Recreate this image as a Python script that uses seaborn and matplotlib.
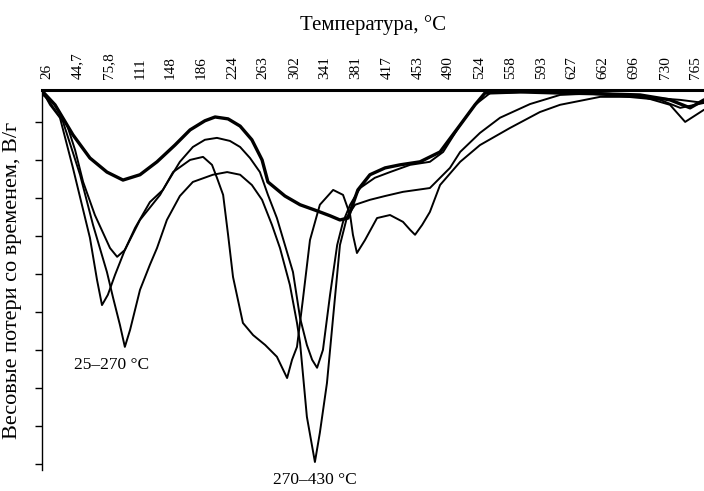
import numpy as np
import pandas as pd
import matplotlib
matplotlib.use("Agg")
import matplotlib.pyplot as plt
import seaborn as sns

# =========================
# DATA (x: tick index on temperature scale, y: DTG in tick units)
# =========================
temp_labels = ["26", "44,7", "75,8", "111", "148", "186", "224", "263", "302", "341",
               "381", "417", "453", "490", "524", "558", "593", "627", "662", "696",
               "730", "765"]

c1_x = [-0.13, 0.26, 0.84, 1.39, 1.94, 2.46, 3.01, 3.56, 4.14, 4.63, 5.11, 5.44, 5.86,
        6.25, 6.63, 6.96, 7.15, 7.70, 8.19, 8.67, 9.16, 9.48, 9.74, 10.06, 10.45, 10.94,
        11.42, 12.07, 12.72, 13.37, 13.85, 14.17, 15.31, 16.60, 17.90, 19.19, 20.16,
        20.81, 21.26]
c1_y = [0.79, 0.45, -0.34, -0.95, -1.32, -1.53, -1.39, -1.05, -0.61, -0.21, 0.03, 0.13,
        0.08, -0.11, -0.47, -1.00, -1.58, -1.95, -2.18, -2.32, -2.47, -2.58, -2.53,
        -1.79, -1.39, -1.21, -1.13, -1.05, -0.79, -0.08, 0.45, 0.76, 0.79, 0.76, 0.74,
        0.71, 0.58, 0.37, 0.58]

c2_x = [-0.13, 0.26, 0.65, 0.91, 1.17, 1.55, 2.04, 2.27, 2.52, 2.85, 3.33, 3.75, 4.30,
        4.72, 5.11, 5.50, 5.92, 6.25, 6.57, 6.89, 7.15, 7.44, 7.70, 7.96, 8.19, 8.41,
        8.58, 8.74, 8.93, 9.16, 9.39, 9.58, 9.81, 10.13, 10.61, 11.10, 11.75, 12.39,
        12.82, 13.37, 13.85, 14.34, 15.63, 17.25, 18.54, 19.84, 20.49, 21.26]
c2_y = [0.71, 0.45, -0.08, -0.74, -1.58, -2.45, -3.32, -3.55, -3.37, -2.79, -2.11,
        -1.79, -1.05, -0.66, -0.47, -0.42, -0.50, -0.66, -0.95, -1.32, -1.92, -2.53,
        -3.24, -3.95, -5.16, -5.87, -6.26, -6.47, -6.00, -4.55, -3.24, -2.63, -2.18,
        -1.74, -1.47, -1.32, -1.13, -1.05, -0.79, -0.08, 0.45, 0.76, 0.79, 0.76, 0.68,
        0.58, 0.37, 0.50]

c3_x = [-0.13, 0.26, 0.52, 1.07, 1.49, 1.94, 2.14, 2.36, 2.52, 2.69, 3.01, 3.33, 3.56,
        3.88, 4.30, 4.72, 5.37, 5.83, 6.25, 6.63, 6.96, 7.28, 7.54, 7.86, 8.09, 8.19,
        8.41, 8.67, 8.83, 9.06, 9.26, 9.48, 9.71, 9.97, 10.45, 10.94, 11.52, 12.39,
        13.04, 13.37, 14.01, 14.66, 15.63, 16.60, 17.90, 19.19, 20.16, 20.65, 21.26]
c3_y = [0.76, 0.32, 0.00, -1.39, -2.71, -3.95, -4.63, -5.34, -5.92, -5.47, -4.42,
        -3.76, -3.32, -2.58, -1.95, -1.58, -1.39, -1.32, -1.39, -1.66, -2.05, -2.71,
        -3.32, -4.29, -5.29, -5.82, -7.76, -8.95, -8.18, -6.87, -5.13, -3.24, -2.50,
        -2.18, -2.05, -1.95, -1.84, -1.74, -1.21, -0.79, -0.29, 0.11, 0.47, 0.71, 0.76,
        0.68, 0.45, 0.00, 0.32]

c4_x = [-0.13, 0.10, 0.42, 0.84, 1.39, 1.62, 1.78, 1.97, 2.20, 2.52, 3.01, 3.66, 4.08,
        4.63, 5.05, 5.34, 5.50, 5.70, 5.86, 6.02, 6.34, 6.67, 7.06, 7.44, 7.77, 7.93,
        8.09, 8.28, 8.51, 8.83, 9.26, 9.58, 9.81, 9.90, 10.03, 10.29, 10.68, 11.10,
        11.52, 11.75, 11.91, 12.14, 12.39, 12.72, 13.37, 14.01, 14.98, 15.95, 16.60,
        17.90, 19.19, 20.49, 21.26]
c4_y = [0.79, 0.45, 0.11, -1.21, -3.05, -4.16, -4.82, -4.55, -4.03, -3.37, -2.58,
        -1.92, -1.32, -1.00, -0.92, -1.13, -1.47, -1.92, -2.97, -4.08, -5.29, -5.61,
        -5.87, -6.18, -6.74, -6.26, -5.92, -4.68, -3.11, -2.18, -1.79, -1.92, -2.45,
        -2.97, -3.45, -3.11, -2.53, -2.45, -2.63, -2.84, -2.97, -2.71, -2.37, -1.66,
        -1.05, -0.61, -0.16, 0.26, 0.45, 0.66, 0.66, 0.58, 0.50]

curves = [("1", c1_x, c1_y, 2.4), ("2", c2_x, c2_y, 1.4),
          ("3", c3_x, c3_y, 1.4), ("4", c4_x, c4_y, 1.4)]

# =========================
# PLOT
# =========================
sns.set_theme(style="white")
plt.rcParams["font.family"] = ["Liberation Serif", "DejaVu Serif"]
plt.rcParams["text.color"] = "black"
plt.rcParams["axes.labelcolor"] = "black"
plt.rcParams["xtick.color"] = "black"
plt.rcParams["ytick.color"] = "black"

fig = plt.figure(figsize=(7.04, 4.91), dpi=100)
ax = fig.add_axes([0.0597, 0.0428, 0.9403, 0.7739])

for name, xs, ys, lw in curves:
    df = pd.DataFrame({"x": xs, "y": ys})
    sns.lineplot(data=df, x="x", y="y", ax=ax, color="black", lw=lw,
                 estimator=None, sort=False)

ax.set_xlim(-0.16, 21.26)
ax.set_ylim(-9.16, 0.84)

ax.xaxis.tick_top()
ax.xaxis.set_label_position("top")
ax.set_xticks(range(len(temp_labels)))
ax.set_xticklabels(temp_labels, rotation=90, fontsize=11)
ax.tick_params(axis="x", length=0, pad=8)
ax.set_xlabel("Температура, °С", fontsize=15, labelpad=16)

ax.set_yticks(np.arange(0, -10, -1))
ax.set_yticklabels([])
ax.tick_params(axis="y", direction="out", length=5, width=1, left=True)
ax.set_ylabel("Весовые потери со временем, В/г", fontsize=16, labelpad=6)

for side in ["right", "bottom"]:
    ax.spines[side].set_visible(False)
ax.spines["top"].set_linewidth(2.2)
ax.spines["top"].set_color("black")
ax.spines["left"].set_linewidth(1.0)
ax.spines["left"].set_color("black")

ax.text(2.10, -6.39, "25–270 °С", fontsize=12.5, ha="center", va="center")
ax.text(8.67, -9.42, "270–430 °С", fontsize=12.5, ha="center", va="center",
        clip_on=False)

fig.savefig("out.png", dpi=100)
